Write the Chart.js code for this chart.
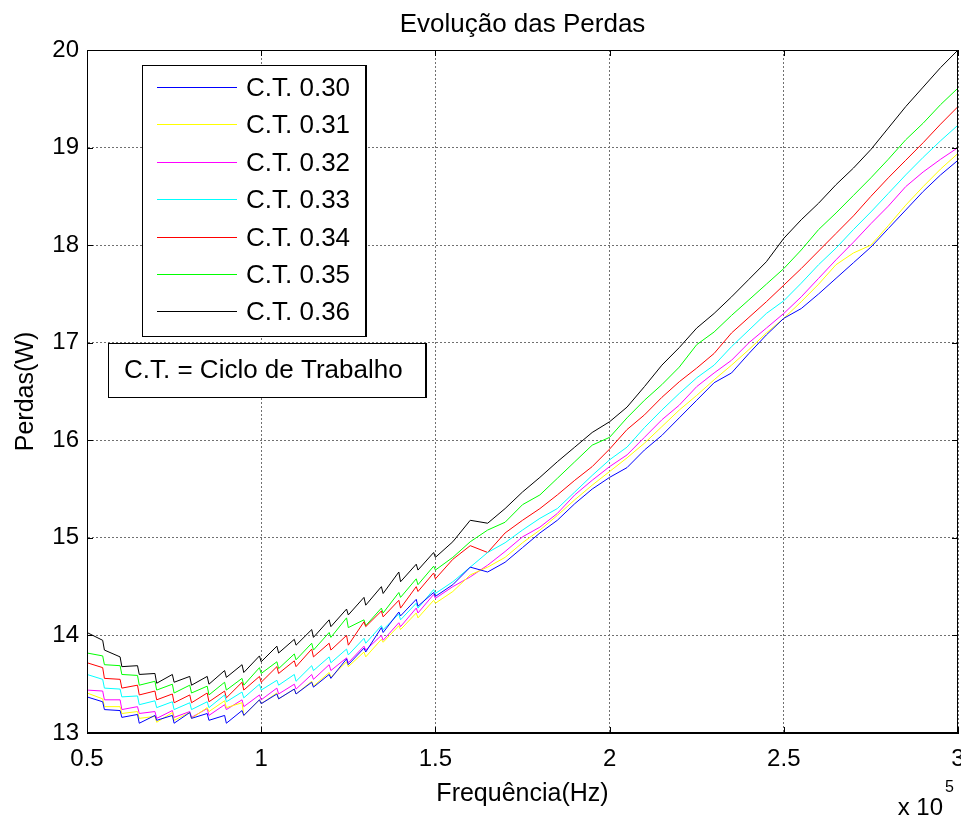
<!DOCTYPE html>
<html>
<head>
<meta charset="utf-8">
<title>Evolução das Perdas</title>
<script src="https://cdn.jsdelivr.net/npm/chart.js@4.4.1/dist/chart.umd.min.js"></script>
<style>
  html, body { margin: 0; padding: 0; background: #fff; }
  #wrap { width: 961px; height: 820px; }
</style>
</head>
<body>
<div id="wrap"><canvas id="lossChart" width="961" height="820"></canvas></div>
<script>
'use strict';

// frequencia (Hz) - o eixo mostra x 10^5
// entre 50 e 150 kHz ha um ponto extra antes de cada queda (dente de serra)
var freqs = [
	50000, 54500, 55000, 59500, 60000, 64500, 65000, 69500, 70000, 74500,
	75000, 79500, 80000, 84500, 85000, 89500, 90000, 94500, 95000, 99500,
	100000, 104500, 105000, 109500, 110000, 114500, 115000, 119500, 120000, 124500,
	125000, 129500, 130000, 134500, 135000, 139500, 140000, 144500, 145000, 149500,
	150000, 155000, 160000, 165000, 170000, 175000, 180000, 185000, 190000, 195000,
	200000, 205000, 210000, 215000, 220000, 225000, 230000, 235000, 240000, 245000,
	250000, 255000, 260000, 265000, 270000, 275000, 280000, 285000, 290000, 295000,
	300000
];

// perdas (W) para cada ciclo de trabalho
var ct30 = [
	13.37, 13.32, 13.24, 13.23, 13.16, 13.19, 13.10, 13.18, 13.13, 13.18,
	13.10, 13.21, 13.15, 13.20, 13.13, 13.18, 13.10, 13.23, 13.18, 13.34,
	13.30, 13.40, 13.35, 13.45, 13.40, 13.52, 13.47, 13.60, 13.56, 13.76,
	13.70, 13.87, 13.83, 14.08, 14.03, 14.24, 14.20, 14.37, 14.30, 14.44,
	14.40, 14.52, 14.70, 14.65, 14.75, 14.90, 15.05, 15.18, 15.35, 15.50,
	15.62, 15.72, 15.90, 16.05, 16.23, 16.41, 16.59, 16.69, 16.89, 17.08,
	17.25, 17.35, 17.50, 17.66, 17.82, 17.98, 18.17, 18.36, 18.55, 18.72,
	18.87
];
var ct31 = [
	13.41, 13.35, 13.27, 13.27, 13.20, 13.22, 13.15, 13.17, 13.11, 13.21,
	13.13, 13.21, 13.15, 13.26, 13.22, 13.33, 13.26, 13.31, 13.18, 13.34,
	13.30, 13.41, 13.35, 13.45, 13.40, 13.53, 13.48, 13.62, 13.57, 13.73,
	13.68, 13.83, 13.78, 13.96, 13.93, 14.10, 14.06, 14.23, 14.18, 14.36,
	14.33, 14.45, 14.62, 14.70, 14.80, 14.95, 15.08, 15.23, 15.39, 15.54,
	15.68, 15.82, 15.97, 16.14, 16.31, 16.46, 16.62, 16.77, 16.93, 17.10,
	17.25, 17.42, 17.60, 17.80, 17.92, 18.00, 18.20, 18.41, 18.60, 18.78,
	18.94
];
var ct32 = [
	13.44, 13.43, 13.34, 13.34, 13.24, 13.27, 13.20, 13.22, 13.15, 13.23,
	13.16, 13.22, 13.16, 13.25, 13.18, 13.29, 13.24, 13.34, 13.27, 13.39,
	13.34, 13.46, 13.40, 13.50, 13.45, 13.60, 13.55, 13.70, 13.64, 13.77,
	13.72, 13.89, 13.85, 14.00, 13.95, 14.13, 14.09, 14.28, 14.23, 14.42,
	14.38, 14.50, 14.60, 14.72, 14.86, 15.01, 15.11, 15.25, 15.44, 15.59,
	15.73, 15.85, 16.03, 16.21, 16.36, 16.55, 16.69, 16.82, 17.00, 17.15,
	17.30, 17.47, 17.66, 17.85, 18.03, 18.22, 18.40, 18.60, 18.75, 18.88,
	19.00
];
var ct33 = [
	13.60, 13.55, 13.46, 13.45, 13.37, 13.38, 13.29, 13.33, 13.26, 13.32,
	13.24, 13.31, 13.24, 13.32, 13.26, 13.39, 13.32, 13.42, 13.36, 13.50,
	13.44, 13.54, 13.49, 13.60, 13.53, 13.69, 13.64, 13.78, 13.72, 13.86,
	13.80, 13.97, 13.92, 14.10, 14.06, 14.22, 14.16, 14.33, 14.28, 14.47,
	14.43, 14.55, 14.70, 14.85, 14.95, 15.08, 15.20, 15.30, 15.47, 15.64,
	15.80, 15.93, 16.13, 16.31, 16.48, 16.64, 16.77, 16.96, 17.13, 17.30,
	17.43, 17.61, 17.80, 17.97, 18.16, 18.34, 18.53, 18.72, 18.90, 19.07,
	19.23
];
var ct34 = [
	13.72, 13.67, 13.56, 13.55, 13.46, 13.49, 13.39, 13.43, 13.34, 13.40,
	13.31, 13.39, 13.31, 13.41, 13.32, 13.43, 13.36, 13.52, 13.44, 13.58,
	13.52, 13.68, 13.61, 13.74, 13.68, 13.86, 13.78, 13.92, 13.85, 14.00,
	13.90, 14.14, 14.09, 14.25, 14.19, 14.36, 14.28, 14.50, 14.45, 14.64,
	14.58, 14.78, 14.92, 14.85, 15.05, 15.18, 15.30, 15.44, 15.59, 15.73,
	15.91, 16.11, 16.26, 16.44, 16.60, 16.74, 16.89, 17.10, 17.26, 17.42,
	17.59, 17.76, 17.94, 18.12, 18.30, 18.50, 18.69, 18.87, 19.05, 19.24,
	19.42
];
var ct35 = [
	13.82, 13.79, 13.70, 13.69, 13.60, 13.59, 13.49, 13.53, 13.44, 13.50,
	13.41, 13.49, 13.41, 13.48, 13.39, 13.52, 13.44, 13.56, 13.49, 13.67,
	13.61, 13.73, 13.66, 13.81, 13.75, 13.92, 13.85, 14.03, 13.98, 14.18,
	14.08, 14.16, 14.10, 14.28, 14.23, 14.44, 14.39, 14.58, 14.52, 14.71,
	14.67, 14.80, 14.96, 15.08, 15.16, 15.34, 15.44, 15.61, 15.78, 15.95,
	16.03, 16.23, 16.41, 16.57, 16.75, 16.98, 17.11, 17.28, 17.44, 17.60,
	17.76, 17.95, 18.16, 18.33, 18.51, 18.69, 18.88, 19.08, 19.25, 19.44,
	19.61
];
var ct36 = [
	14.03, 13.95, 13.85, 13.78, 13.68, 13.69, 13.60, 13.61, 13.51, 13.60,
	13.52, 13.58, 13.49, 13.58, 13.50, 13.64, 13.57, 13.70, 13.62, 13.79,
	13.73, 13.89, 13.82, 13.96, 13.90, 14.06, 13.98, 14.16, 14.09, 14.27,
	14.21, 14.39, 14.31, 14.50, 14.43, 14.65, 14.55, 14.73, 14.67, 14.85,
	14.80, 14.96, 15.18, 15.15, 15.30, 15.47, 15.62, 15.78, 15.93, 16.08,
	16.19, 16.34, 16.55, 16.77, 16.95, 17.15, 17.30, 17.47, 17.65, 17.83,
	18.07, 18.26, 18.43, 18.62, 18.79, 18.98, 19.20, 19.42, 19.62, 19.82,
	20.00
];

var seriesLabels = ['C.T. 0.30', 'C.T. 0.31', 'C.T. 0.32', 'C.T. 0.33', 'C.T. 0.34', 'C.T. 0.35', 'C.T. 0.36'];
var seriesColors = ['#0000ff', '#ffff00', '#ff00ff', '#00ffff', '#ff0000', '#00ff00', '#000000'];
var seriesValues = [ct30, ct31, ct32, ct33, ct34, ct35, ct36];

var chartTitle = 'Evolução das Perdas';
var xTitle = 'Frequência(Hz)';
var yTitle = 'Perdas(W)';
var noteText = 'C.T. = Ciclo de Trabalho';

var fontFamily = '"Liberation Sans", Arial, Helvetica, sans-serif';

function buildDatasets() {
	var sets = [];
	for (var s = 0; s < seriesValues.length; s++) {
		var pts = [];
		for (var i = 0; i < freqs.length; i++) {
			pts.push({x: freqs[i], y: seriesValues[s][i]});
		}
		sets.push({
			label: seriesLabels[s],
			data: pts,
			borderColor: seriesColors[s],
			backgroundColor: seriesColors[s],
			borderWidth: 1,
			pointRadius: 0,
			tension: 0,
			fill: false
		});
	}
	return sets;
}

// caixa, ticks internos, titulo, legenda e nota no estilo matlab
var matlabDecor = {
	id: 'matlabDecor',
	afterDraw: function(chart) {
		var ctx = chart.ctx;
		var ca = chart.chartArea;
		var xs = chart.scales.x;
		var ys = chart.scales.y;
		var i;

		ctx.save();
		ctx.strokeStyle = '#000';
		ctx.lineWidth = 1;
		ctx.strokeRect(ca.left + 0.5, ca.top + 0.5, ca.right - ca.left - 1, ca.bottom - ca.top - 1);

		ctx.beginPath();
		for (i = 0; i < xs.ticks.length; i++) {
			var px = Math.round(xs.getPixelForValue(xs.ticks[i].value)) + 0.5;
			ctx.moveTo(px, ca.bottom); ctx.lineTo(px, ca.bottom - 6);
			ctx.moveTo(px, ca.top); ctx.lineTo(px, ca.top + 6);
		}
		for (i = 0; i < ys.ticks.length; i++) {
			var py = Math.round(ys.getPixelForValue(ys.ticks[i].value)) + 0.5;
			ctx.moveTo(ca.left, py); ctx.lineTo(ca.left + 6, py);
			ctx.moveTo(ca.right, py); ctx.lineTo(ca.right - 6, py);
		}
		ctx.stroke();

		ctx.fillStyle = '#000';
		ctx.font = '26px ' + fontFamily;
		ctx.textAlign = 'center';
		ctx.textBaseline = 'middle';
		ctx.fillText(chartTitle, (ca.left + ca.right) / 2, 25);

		// x 10^5
		ctx.font = '24px ' + fontFamily;
		ctx.textAlign = 'right';
		ctx.textBaseline = 'alphabetic';
		ctx.fillText('x 10', 943, 815);
		ctx.font = '16px ' + fontFamily;
		ctx.textAlign = 'left';
		ctx.fillText('5', 945, 792);

		// legenda
		var lx = ca.left + 55, ly = ca.top + 15, lw = 223, lh = 271;
		ctx.fillStyle = '#fff';
		ctx.fillRect(lx, ly, lw, lh);
		ctx.strokeStyle = '#000';
		ctx.lineWidth = 1;
		ctx.strokeRect(lx + 0.5, ly + 0.5, lw, lh);
		ctx.lineWidth = 2;
		ctx.beginPath(); ctx.moveTo(lx + lw + 1, ly); ctx.lineTo(lx + lw + 1, ly + lh + 1); ctx.stroke();

		ctx.font = '26px ' + fontFamily;
		ctx.textBaseline = 'middle';
		ctx.textAlign = 'left';
		var dsets = chart.data.datasets;
		for (i = 0; i < dsets.length; i++) {
			var ry = Math.round(ly + 22 + i * 37.4) + 0.5;
			ctx.strokeStyle = dsets[i].borderColor;
			ctx.lineWidth = 1;
			ctx.beginPath(); ctx.moveTo(lx + 15, ry); ctx.lineTo(lx + 95, ry); ctx.stroke();
			ctx.fillStyle = '#000';
			ctx.fillText(dsets[i].label, lx + 104, ry + 1);
		}

		// nota
		var nx = ca.left + 21, ny = ca.top + 293, nw = 317, nh = 54;
		ctx.fillStyle = '#fff';
		ctx.fillRect(nx, ny, nw, nh);
		ctx.strokeStyle = '#000';
		ctx.lineWidth = 1;
		ctx.strokeRect(nx + 0.5, ny + 0.5, nw, nh);
		ctx.lineWidth = 2;
		ctx.beginPath(); ctx.moveTo(nx + nw + 1, ny); ctx.lineTo(nx + nw + 1, ny + nh + 1); ctx.stroke();
		ctx.fillStyle = '#000';
		ctx.fillText(noteText, nx + 16, ny + nh / 2 + 1);

		ctx.restore();
	}
};

function init() {
	var chartData = {
		type: 'line',
		data: { datasets: buildDatasets() },
		options: {
			responsive: false,
			animation: false,
			devicePixelRatio: 1,
			layout: { padding: { top: 50, right: 0, bottom: 0, left: 0 } },
			plugins: {
				legend: { display: false },
				title: { display: false },
				tooltip: { enabled: false }
			},
			scales: {
				x: {
					type: 'linear',
					min: 50000,
					max: 300000,
					grid: { color: '#707070', drawTicks: false, lineWidth: 1 },
					border: { display: true, color: '#000', dash: [2, 2] },
					ticks: {
						stepSize: 50000,
						padding: 12,
						color: '#000',
						font: { family: fontFamily, size: 24 },
						maxRotation: 0,
						callback: function(v) { return String(v / 100000); }
					},
					title: {
						display: true,
						text: xTitle,
						color: '#000',
						font: { family: fontFamily, size: 25 },
						padding: { top: 0, bottom: 11 }
					},
					afterFit: function(scale) {
						scale.height = 87;
						scale.paddingRight = 3;
					}
				},
				y: {
					min: 13,
					max: 20,
					grid: { color: '#707070', drawTicks: false, lineWidth: 1 },
					border: { display: true, color: '#000', dash: [2, 2] },
					ticks: {
						stepSize: 1,
						padding: 8,
						color: '#000',
						font: { family: fontFamily, size: 24 }
					},
					title: {
						display: true,
						text: yTitle,
						color: '#000',
						font: { family: fontFamily, size: 25 },
						padding: { top: 11, bottom: 0 }
					},
					afterFit: function(scale) {
						scale.width = 87;
					}
				}
			}
		},
		plugins: [matlabDecor]
	};

	new Chart(document.getElementById('lossChart'), chartData);
}

init();
</script>
</body>
</html>
